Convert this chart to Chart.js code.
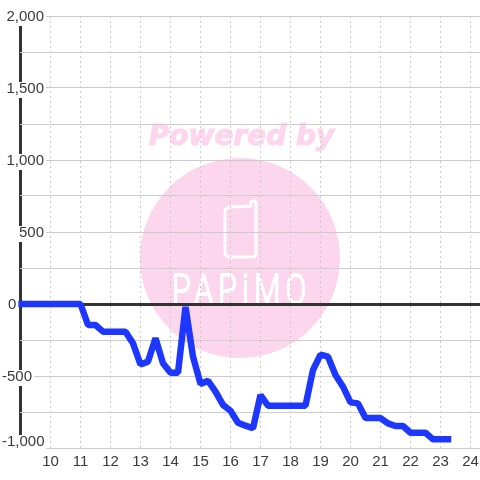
<!DOCTYPE html>
<html>
<head>
<meta charset="utf-8">
<style>
  html, body { margin: 0; padding: 0; background: #fff; }
  canvas { display: block; }
</style>
<script src="https://cdn.jsdelivr.net/npm/chart.js@4"></script>
</head>
<body>
<canvas id="grafico" width="480" height="480"></canvas>
<script>
const horas = [
  9, 9.25, 9.5, 9.75, 10, 10.25, 10.5, 10.75, 11, 11.25, 11.5, 11.75,
  12, 12.25, 12.5, 12.75, 13, 13.25, 13.5, 13.75, 14, 14.25, 14.5, 14.75,
  15, 15.25, 15.5, 15.75, 16, 16.25, 16.5, 16.75, 17, 17.25, 17.5, 17.75,
  18, 18.25, 18.5, 18.75, 19, 19.25, 19.5, 19.75, 20, 20.25, 20.5, 20.75,
  21, 21.25, 21.5, 21.75, 22, 22.25, 22.5, 22.75, 23, 23.25
];
const saldo = [
  0, 0, 0, 0, 0, 0, 0, 0, 0, -146, -146, -192,
  -192, -192, -192, -273, -420, -400, -238, -412, -477, -477, -20, -366,
  -555, -533, -609, -701, -741, -824, -845, -863, -632, -706, -706, -706,
  -706, -706, -706, -458, -352, -366, -493, -574, -683, -690, -792, -792,
  -792, -829, -847, -847, -894, -894, -894, -940, -940, -940
];
const xTicks = [9, 10, 11, 12, 13, 14, 15, 16, 17, 18, 19, 20, 21, 22, 23, 24];
const xLabels = ["", "10", "11", "12", "13", "14", "15", "16", "17", "18", "19", "20", "21", "22", "23", "24"];
const yTicksRotulados = [2000, 1500, 1000, 500, 0, -500, -1000];
const yLabels = ["2,000", "1,500", "1,000", "500", "0", "-500", "-1,000"];

const marcaDagua = {
  id: "marcaDagua",
  beforeDraw(chart) {
    const c = chart.ctx;
    c.save();
    c.fillStyle = "#fcd6ec";
    c.beginPath();
    c.arc(240, 258, 100, 0, Math.PI * 2);
    c.fill();

    c.font = 'italic bold 28px "DejaVu Sans"';
    c.textAlign = "center";
    c.textBaseline = "alphabetic";
    c.strokeStyle = "#fcd6ec";
    c.lineWidth = 1;
    c.fillText("Powered by", 241.5, 145);
    c.strokeText("Powered by", 241.5, 145);

    // aparelho
    c.strokeStyle = "#fff";
    c.lineWidth = 3;
    c.lineJoin = "round";
    c.beginPath();
    c.moveTo(231, 207);
    c.lineTo(251, 206);
    c.lineTo(251, 202);
    c.quadraticCurveTo(255, 199, 256, 203);
    c.lineTo(256, 253);
    c.quadraticCurveTo(256, 257, 252, 257);
    c.lineTo(230, 257);
    c.quadraticCurveTo(225, 257, 225, 252);
    c.lineTo(225, 212);
    c.quadraticCurveTo(225, 207, 231, 207);
    c.stroke();

    c.fillStyle = "#fff";
    c.lineWidth = 1.5;
    c.font = "300 36px Roboto";
    c.textAlign = "left";
    c.translate(172, 304);
    c.scale(0.85, 1.2);
    c.letterSpacing = "6px";
    c.fillText("PAPiMO", 0, 0);
    c.strokeText("PAPiMO", 0, 0);
    c.restore();
  }
};

// os rotulos do eixo y nao seguem um alinhamento so, por isso ficam aqui
const rotulosY = {
  id: "rotulosY",
  afterDatasetsDraw(chart) {
    const c = chart.ctx;
    const escala = chart.scales.y;
    c.save();
    c.font = '15px "Liberation Sans"';
    c.textAlign = "left";
    c.textBaseline = "middle";
    yTicksRotulados.forEach((v, i) => {
      const w = c.measureText(yLabels[i]).width;
      let x = 44 - w;
      if (v === 0) x = 8;
      if (v < 0) x = 2;
      const y = escala.getPixelForValue(v) + (v === -1000 ? -6 : 1);
      const inicio = v > 0 ? x - 2 : 0;
      c.fillStyle = "#fff";
      c.fillRect(inicio, y - 7, x + w + 2 - inicio, v === -1000 ? 14 : 16);
      c.fillStyle = "#3a3a3a";
      c.fillText(yLabels[i], x, y);
    });
    c.restore();
  }
};

new Chart(document.getElementById("grafico").getContext("2d"), {
  type: "line",
  data: {
    labels: horas,
    datasets: [{
      data: saldo,
      borderColor: "#1e37ff",
      borderWidth: 6.5,
      borderCapStyle: "square",
      borderJoinStyle: "bevel",
      pointRadius: 0,
      tension: 0,
      fill: false,
      clip: false
    }]
  },
  options: {
    responsive: false,
    animation: false,
    layout: { padding: { left: 20, top: 16, right: 0, bottom: 0 } },
    plugins: { legend: { display: false }, tooltip: { enabled: false } },
    scales: {
      x: {
        type: "linear",
        min: 8.983,
        max: 24.317,
        afterBuildTicks: scale => { scale.ticks = xTicks.map(v => ({ value: v })); },
        afterFit: scale => {
          scale.height = 32;
          scale.paddingLeft = 0;
          scale.paddingRight = 0;
        },
        grid: {
          drawTicks: false,
          color: ctx => ctx.tick && ctx.tick.value === 9 ? "#333" : "#ccc",
          lineWidth: ctx => ctx.tick && ctx.tick.value === 9 ? 3 : 1
        },
        border: {
          display: false,
          dash: ctx => ctx.tick && ctx.tick.value === 9 ? [] : [2, 3]
        },
        ticks: {
          autoSkip: false,
          maxRotation: 0,
          padding: 6,
          color: "#3a3a3a",
          font: { family: '"Liberation Sans"', size: 15, lineHeight: "16px" },
          callback: v => xLabels[xTicks.indexOf(v)]
        }
      },
      y: {
        min: -1000,
        max: 2000,
        afterFit: scale => { scale.width = 0; },
        grid: {
          drawTicks: false,
          color: ctx => ctx.tick && ctx.tick.value === 0 ? "#333" : "#ccc",
          lineWidth: ctx => ctx.tick && ctx.tick.value === 0 ? 3 : 1
        },
        border: { display: false },
        ticks: { display: false, stepSize: 250 }
      }
    }
  },
  plugins: [marcaDagua, rotulosY]
});
</script>
</body>
</html>
